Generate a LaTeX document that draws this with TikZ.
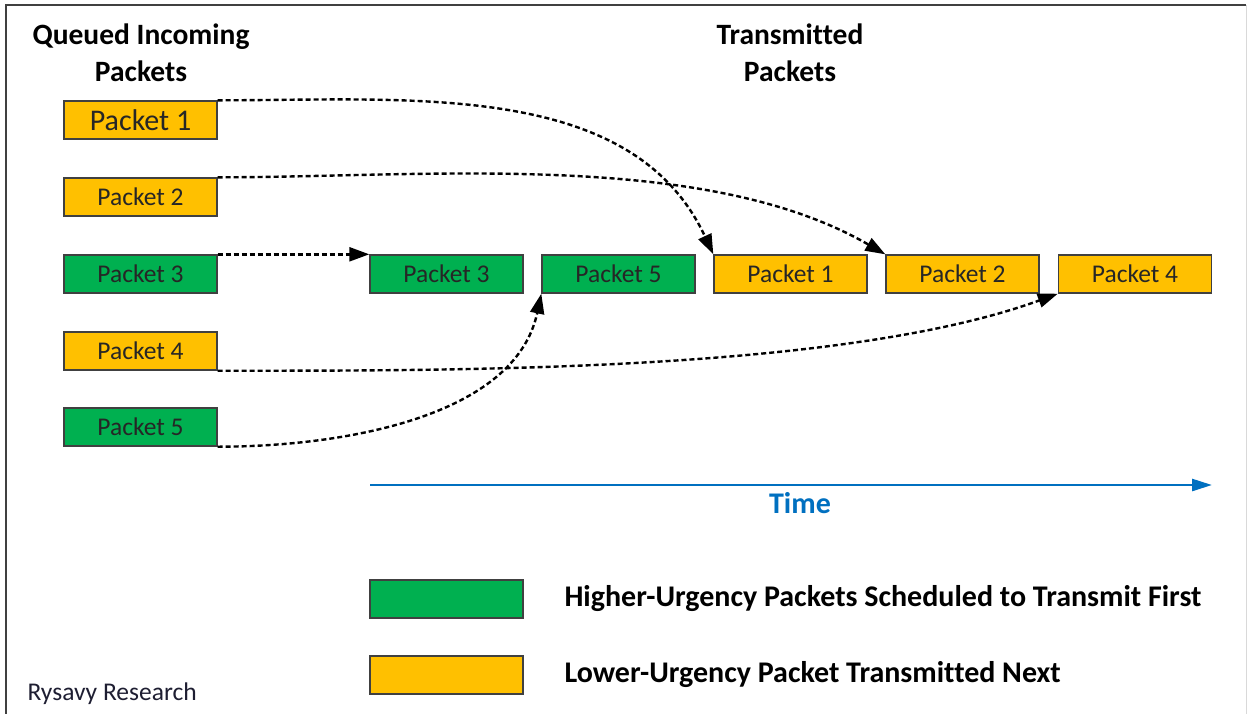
\documentclass[tikz,border=0pt]{standalone}
\usepackage{fontspec}
\setmainfont{Carlito}[Ligatures=NoCommon]
\usetikzlibrary{arrows.meta}
\definecolor{pkorange}{RGB}{255,192,0}
\definecolor{pkgreen}{RGB}{0,176,80}
\definecolor{pkedge}{RGB}{64,64,64}
\definecolor{timeblue}{RGB}{0,112,192}
\definecolor{sigtxt}{RGB}{30,30,50}
\tikzset{
  pbox/.style={draw=pkedge, line width=1.4pt, minimum width=153pt, minimum height=38pt, inner sep=0pt, font=\fontsize{25.5}{27}\selectfont, text=black!85},
  gbox/.style={pbox, fill=pkgreen},
  obox/.style={pbox, fill=pkorange},
  title/.style={font=\bfseries\fontsize{29.5}{37}\selectfont, align=center, text=black},
  legtxt/.style={font=\bfseries\fontsize{30}{32}\selectfont, anchor=west, text=black},
  flow/.style={draw=black, line width=2.4pt, dash pattern=on 5pt off 3pt, -{Triangle[length=20pt,width=14pt]}, shorten >=0pt}
}
\begin{document}
\begin{tikzpicture}[x=1pt,y=-1pt]
\useasboundingbox (0,0) rectangle (1248,713);
\fill[white] (0,0) rectangle (1248,713);
% frame
\draw[draw=black!75, line width=2.5pt] (6,720) -- (6,5) -- (1246,5);
\draw[draw=black!15, line width=1pt] (1246,5) -- (1246,720);
% titles
\node[title] (tq) at (141,53) {Queued Incoming\\Packets};
\node[title] (tt) at (790,53) {Transmitted\\Packets};
% left column
\node[obox, font=\fontsize{30}{32}\selectfont] (l1) at (140.5,120) {Packet 1};
\node[obox] (l2) at (140.5,197) {Packet 2};
\node[gbox] (l3) at (140.5,274) {Packet 3};
\node[obox] (l4) at (140.5,351) {Packet 4};
\node[gbox] (l5) at (140.5,427) {Packet 5};
% right row
\node[gbox] (r3) at (446.5,274) {Packet 3};
\node[gbox] (r5) at (618.5,274) {Packet 5};
\node[obox] (r1) at (790.5,274) {Packet 1};
\node[obox] (r2) at (962.5,274) {Packet 2};
\node[obox] (r4) at (1135,274) {Packet 4};
% connectors
\draw[flow] (l1.north east) to[out=0, in=115, looseness=0.95] (r1.north west);
\draw[flow] (l2.north east) to[out=0, in=150, looseness=0.8] (r2.north west);
\draw[flow] (l3.north east) -- (r3.north west);
\draw[flow] (l4.south east) to[out=0, in=200, looseness=0.7] (r4.south west);
\draw[flow] (l5.south east) to[out=0, in=258, looseness=0.9] (r5.south west);
% time axis
\coordinate (ta) at (370,485);
\coordinate (tb) at (1212,485);
\draw[draw=timeblue, line width=2.6pt, -{Triangle[length=20pt,width=12pt]}] (ta) -- (tb);
\node[font=\bfseries\fontsize{30}{32}\selectfont, text=timeblue] (time) at (800,503) {Time};
% legend
\node[gbox] (lg) at (446.5,599) {};
\node[obox] (lo) at (446.5,675) {};
\node[legtxt] (lgt) at (561,599) {Higher-Urgency Packets Scheduled to Transmit First};
\node[legtxt] (lot) at (561,675) {Lower-Urgency Packet Transmitted Next};
% signature
\node[font=\fontsize{25.5}{27}\selectfont, text=sigtxt, anchor=west] (sig) at (24,694) {Rysavy Research};
\end{tikzpicture}
\end{document}
